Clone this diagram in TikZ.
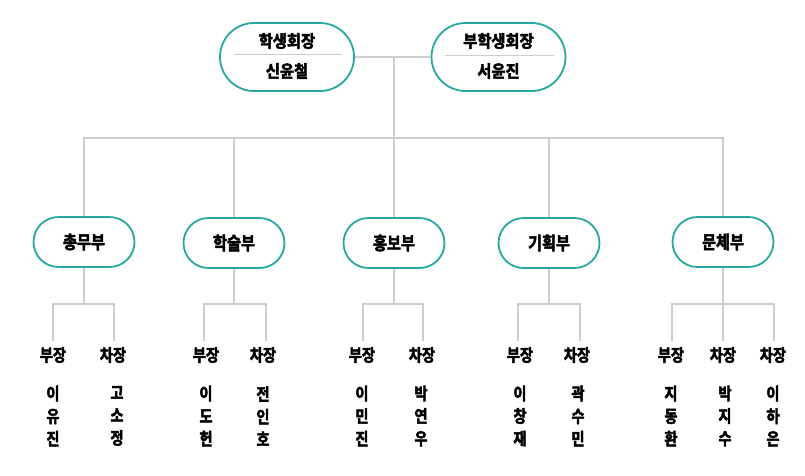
\documentclass[tikz,border=0pt]{standalone}
\usepackage{fontspec}
\setmainfont{Noto Sans CJK KR}
\newfontfamily\narrowkr{Noto Sans CJK KR Bold}[FakeBold=2.8, FakeStretch=0.84]
\newfontfamily\topkr{Noto Sans CJK KR Bold}[FakeBold=2.8, FakeStretch=0.9]
\definecolor{tealb}{RGB}{38,168,158}
\definecolor{lineg}{RGB}{205,205,205}
\begin{document}
\begin{tikzpicture}[x=1pt,y=-1pt,
  conn/.style={draw=lineg, line width=1.4pt},
  topbox/.style={draw=tealb, line width=1.8pt, rounded corners=34pt, minimum width=134pt, minimum height=68pt, inner sep=0pt},
  dept/.style={draw=tealb, line width=1.8pt, rounded corners=25pt, minimum width=101pt, minimum height=50pt, inner sep=0pt, font=\narrowkr\fontsize{18}{18}\selectfont},
  ttxt/.style={font=\topkr\fontsize{17}{18}\selectfont, inner sep=0pt},
  role/.style={font=\narrowkr\fontsize{17}{18}\selectfont, inner sep=1pt},
  who/.style={font=\narrowkr\fontsize{17}{22.6}\selectfont, align=center, inner sep=0pt},
  sep/.style={draw=lineg, line width=1pt}]
\useasboundingbox (0,0) rectangle (805,475);

% top boxes
\node[topbox] (pres) at (287,57) {};
\node[topbox] (vp) at (498.5,57) {};
\node[ttxt] (pres1) at (287,41) {학생회장};
\node[ttxt] (pres2) at (287,71) {신윤철};
\node[ttxt] (vp1) at (498.5,41) {부학생회장};
\node[ttxt] (vp2) at (498.5,71) {서윤진};
\coordinate (ps1) at (234,54); \coordinate (ps2) at (342,54);
\coordinate (vs1) at (445,55); \coordinate (vs2) at (554,55);
\draw[sep] (ps1) -- (ps2);
\draw[sep] (vs1) -- (vs2);

% departments
\node[dept] (d1) at (84,242) {총무부};
\node[dept] (d2) at (234,243) {학술부};
\node[dept] (d3) at (394,243) {홍보부};
\node[dept] (d4) at (549,243) {기획부};
\node[dept] (d5) at (723,242) {문체부};

\coordinate (hub) at (394,57);
\coordinate (bus) at (394,138);
\coordinate (busL) at (84,138);
\coordinate (busR) at (723,138);
\draw[conn] (pres.east) -- (vp.west);
\draw[conn] (hub) -- (d3.north);
\draw[conn] (d1.north) -- (busL) -- (busR) -- (d5.north);
\draw[conn] (d2.north) -- (d2.north |- bus);
\draw[conn] (d4.north) -- (d4.north |- bus);

% roles
\node[role] (r1a) at (53,355) {부장};
\node[role] (r1b) at (113,355) {차장};
\node[role] (r2a) at (206,355) {부장};
\node[role] (r2b) at (263,355) {차장};
\node[role] (r3a) at (362,355) {부장};
\node[role] (r3b) at (422,355) {차장};
\node[role] (r4a) at (520,355) {부장};
\node[role] (r4b) at (577,355) {차장};
\node[role] (r5a) at (671,355) {부장};
\node[role] (r5b) at (723,355) {차장};
\node[role] (r5c) at (773,355) {차장};

% branch coordinates
\coordinate (b1) at (84,304);
\coordinate (b2) at (234,304);
\coordinate (b3) at (394,304);
\coordinate (b4) at (549,304);
\coordinate (b5) at (723,304);
\coordinate (l1a) at (53,341); \coordinate (l1b) at (114,341);
\coordinate (l2a) at (204,341); \coordinate (l2b) at (266,341);
\coordinate (l3a) at (363,341); \coordinate (l3b) at (423,341);
\coordinate (l4a) at (518,341); \coordinate (l4b) at (580,341);
\coordinate (l5a) at (672,341); \coordinate (l5b) at (723,341); \coordinate (l5c) at (774,341);

\draw[conn] (d1.south) -- (b1);
\draw[conn] (l1a) |- (b1) -| (l1b);
\draw[conn] (d2.south) -- (b2);
\draw[conn] (l2a) |- (b2) -| (l2b);
\draw[conn] (d3.south) -- (b3);
\draw[conn] (l3a) |- (b3) -| (l3b);
\draw[conn] (d4.south) -- (b4);
\draw[conn] (l4a) |- (b4) -| (l4b);
\draw[conn] (d5.south) -- (l5b);
\draw[conn] (l5a) |- (b5) -| (l5c);

% names
\node[who] (n1a) at (53,416) {이\\유\\진};
\node[who] (n1b) at (117,416) {고\\소\\정};
\node[who] (n2a) at (206,416) {이\\도\\헌};
\node[who] (n2b) at (263,416) {전\\인\\호};
\node[who] (n3a) at (362,416) {이\\민\\진};
\node[who] (n3b) at (421,416) {박\\연\\우};
\node[who] (n4a) at (520,416) {이\\창\\재};
\node[who] (n4b) at (578,416) {곽\\수\\민};
\node[who] (n5a) at (671,416) {지\\동\\환};
\node[who] (n5b) at (725,416) {박\\지\\수};
\node[who] (n5c) at (773,416) {이\\하\\은};
\end{tikzpicture}
\end{document}
